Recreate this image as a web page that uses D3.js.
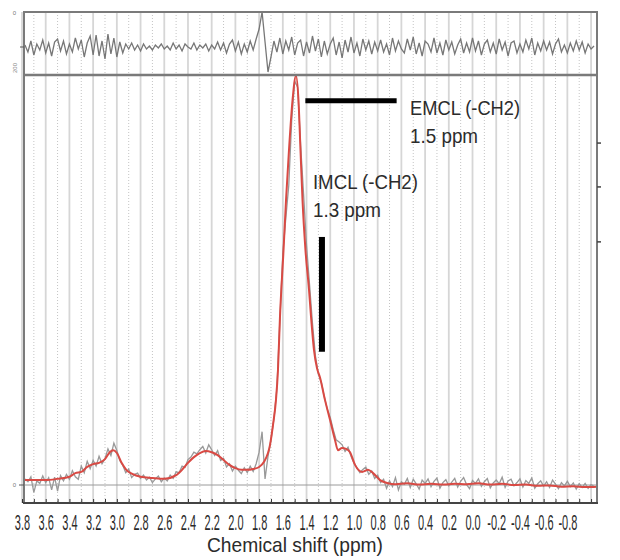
<!DOCTYPE html>
<html>
<head>
<meta charset="utf-8">
<script src="https://cdn.jsdelivr.net/npm/d3@7"></script>
<style>
body{margin:0;background:#fff;}
svg{display:block;font-family:"Liberation Sans Narrow","Liberation Sans",Arial,sans-serif;}
</style>
</head>
<body>
<script>
// fitted spectrum (red), ppm -> amplitude (baseline 0, main peak ~100)
const fitPpm=[3.78,3.7,3.6,3.5,3.4,3.35,3.3,3.25,3.2,3.15,3.1,3.06,3.03,3.0,2.96,2.92,2.87,2.8,2.7,2.6,
  2.5,2.45,2.4,2.35,2.3,2.25,2.2,2.15,2.1,2.05,2.0,1.95,1.9,1.85,1.8,1.76,1.708,1.683,1.658,1.641,
  1.624,1.594,1.573,1.548,1.518,1.489,1.468,1.451,1.434,1.409,1.379,1.362,1.337,1.312,1.287,1.244,1.202,1.16,1.135,1.101,
  1.067,1.033,0.991,0.932,0.882,0.839,0.78,0.721,0.65,0.55,0.45,0.35,0.25,0.15,0.05,-0.05,-0.15,-0.25,-0.35,-0.45,
  -0.55,-0.65,-0.75,-0.85,-0.95,-1.05];
const fitVal=[1.2,1.2,1.2,1.5,2.0,2.9,3.2,4.4,5.1,5.4,6.3,8.0,8.5,7.8,5.4,3.7,2.7,2.0,1.7,1.5,
  2.4,3.7,5.4,6.8,7.8,8.3,8.0,7.3,6.1,4.9,4.1,3.7,3.7,3.9,4.4,5.6,9.8,14.6,20.7,28.0,
  41.0,57.3,69.5,81.7,93.9,99.8,93.9,81.7,69.5,57.3,47.6,41.0,32.9,28.5,26.3,20.7,15.9,11.0,8.5,9.0,
  8.8,8.0,4.9,3.2,3.7,2.9,1.2,0.5,0.2,0.4,0.1,0.3,0.1,0.3,0.2,0.4,0.1,0.3,0.0,0.1,
  -0.2,-0.1,-0.4,-0.3,-0.5,-0.4];

// raw spectrum (gray) and residual (top panel), sampled every 0.025 ppm starting at 3.775
const sampleStart=3.775, sampleStep=0.025;
const rawVal=[
  1.5,0.8,2.0,-1.8,1.0,0.4,2.2,0.6,
  1.8,-1.2,1.9,-1.5,2.3,1.0,2.6,1.4,
  3.5,2.0,1.4,4.6,3.0,5.8,4.0,6.0,
  4.6,7.0,5.2,6.4,8.8,7.2,10.2,8.4,
  6.0,4.8,3.0,3.9,1.8,2.6,2.9,1.6,
  2.4,1.2,1.9,0.6,1.5,2.2,0.8,1.7,
  1.0,2.4,1.6,3.2,3.0,4.6,4.3,6.2,
  6.8,8.0,7.6,8.6,9.4,7.8,9.8,8.6,
  7.2,8.4,6.0,6.5,4.4,5.2,3.4,4.6,
  3.6,2.8,4.2,3.0,4.6,3.3,5.2,8.0,
  13.0,1.5,7.0,11.0,16.2,23.5,40.0,56.5,
  65.0,73.0,89.0,98.5,97.0,83.0,71.0,58.5,
  49.0,39.5,31.5,27.0,25.0,21.5,18.5,16.5,
  13.5,11.0,10.5,9.8,8.2,9.2,7.0,5.4,
  4.2,3.0,3.8,4.4,2.6,3.4,1.6,2.4,
  0.6,1.4,-0.8,1.0,-0.4,1.8,-1.2,0.8,
  0.2,1.6,-0.6,1.4,0.3,-1.0,1.2,0.4,
  1.5,-0.4,0.9,1.7,-0.8,0.6,1.3,-0.2,
  0.7,1.6,-0.5,0.9,1.8,0.1,-0.9,1.1,
  0.4,1.5,-0.3,0.8,1.6,-0.7,0.5,1.2,
  0.3,1.9,-0.6,1.0,1.4,-0.2,0.6,1.5,
  -0.5,1.1,0.4,1.7,-0.8,0.3,1.0,-0.3,
  0.8,-0.6,1.2,0.2,-0.9,0.6,-0.2,0.9,
  -0.4,0.5,-1.0,0.3,-0.6,0.4,-0.8,0.1,-0.3];
const resVal=[
  2,-5,6,-8,3,-3,7,-6,
  4,-9,5,8,-4,6,-7,3,
  -5,9,-2,7,-10,4,11,-8,
  12,-9,6,-12,13,-7,9,-10,
  5,-6,3,-2,4,-3,2,-4,
  3,-2,1,-3,2,-1,3,-2,
  1,-3,4,-2,2,-4,3,0,
  -2,4,-3,2,-1,3,-4,2,
  -2,5,-3,4,-6,3,7,-4,
  5,-7,3,-5,6,-3,8,18,
  35,5,-25,-10,6,-5,9,-7,
  6,-3,10,-8,4,7,-9,5,
  -6,11,-4,8,-10,6,-7,3,
  9,-8,5,-11,7,-5,10,-6,
  4,-9,8,-3,6,-7,5,-4,
  7,-5,3,-8,9,-4,6,-2,
  -6,8,-3,10,-7,4,-9,6,
  3,-5,9,-6,4,-8,7,-3,
  5,-7,2,8,-6,4,-5,9,
  -4,6,-8,3,7,-5,4,-7,
  8,-3,5,-9,4,6,-6,3,
  -5,7,-2,9,-8,4,-4,6,
  -3,5,-7,3,8,-5,2,-6,
  4,-4,6,-3,5,-6,3,-2,1];

const tickPpm=[3.8,3.6,3.4,3.2,3.0,2.8,2.6,2.4,2.2,2.0,1.8,1.6,1.4,1.2,1.0,0.8,0.6,0.4,0.2,0.0,-0.2,-0.4,-0.6,-0.8];

// annotation bars: [ppm from, ppm to, value from, value to]
const emclBar=[1.41,0.64,93.7,93.7];
const imclBar=[1.27,1.27,60.5,32.5];
const labels=[
  {t:"EMCL (-CH2)",p:0.527,v:90.2,w:110},
  {t:"1.5 ppm",p:0.527,v:83.4,w:68},
  {t:"IMCL (-CH2)",p:1.346,v:72.2,w:105},
  {t:"1.3 ppm",p:1.346,v:65.4,w:68}
];
const rightTicks=[83.4,72.7,59.3];

const W=620,H=560;
const L=24,R=597,T=12,MID=75,BOT=503;

const x=d3.scaleLinear().domain([3.8,-1.05]).range([22,597]);
const yM=d3.scaleLinear().domain([0,100]).range([485,75]);
const yR=d3.scaleLinear().domain([-28,35]).range([75,12]);

const svg=d3.select('body').append('svg').attr('width',W).attr('height',H);

svg.append('clipPath').attr('id','clipMain').append('rect')
  .attr('x',L).attr('y',MID).attr('width',R-L).attr('height',BOT-MID);
svg.append('clipPath').attr('id','clipRes').append('rect')
  .attr('x',L).attr('y',T).attr('width',R-L).attr('height',MID-T);

// vertical grid every 0.1 ppm: solid on even 0.2, dotted in between
const grid=x.ticks(48);
svg.append('g').selectAll('line').data(grid).enter().append('line')
  .attr('x1',d=>x(d)).attr('x2',d=>x(d)).attr('y1',T).attr('y2',BOT)
  .attr('stroke',d=>Math.round(d*10)%2===0?'#d6d6d6':'#c4c4c4')
  .attr('stroke-width',d=>Math.round(d*10)%2===0?1.8:1)
  .attr('stroke-dasharray',d=>Math.round(d*10)%2===0?null:'1,2');

// baseline
svg.append('line').attr('x1',L).attr('x2',R).attr('y1',yM(0)).attr('y2',yM(0))
  .attr('stroke','#9a9a9a').attr('stroke-width',1);

const samples=rawVal.map((v,i)=>[sampleStart-i*sampleStep,v]);
const resid=resVal.map((v,i)=>[sampleStart-i*sampleStep,v]);
const fit=fitPpm.map((p,i)=>[p,fitVal[i]]);

svg.append('path').datum(resid).attr('clip-path','url(#clipRes)')
  .attr('d',d3.line().x(d=>x(d[0])).y(d=>yR(d[1])))
  .attr('fill','none').attr('stroke','#777').attr('stroke-width',1.3);

svg.append('path').datum(samples).attr('clip-path','url(#clipMain)')
  .attr('d',d3.line().x(d=>x(d[0])).y(d=>yM(d[1])))
  .attr('fill','none').attr('stroke','#999').attr('stroke-width',1.3);

svg.append('path').datum(fit).attr('clip-path','url(#clipMain)')
  .attr('d',d3.line().x(d=>x(d[0])).y(d=>yM(d[1])).curve(d3.curveMonotoneX))
  .attr('fill','none').attr('stroke','#d94a44').attr('stroke-width',2);

// frame
svg.append('rect').attr('x',L).attr('y',T).attr('width',R-L).attr('height',BOT-T)
  .attr('fill','none').attr('stroke','#7a7a7a').attr('stroke-width',2);
svg.append('line').attr('x1',L).attr('x2',R).attr('y1',MID).attr('y2',MID)
  .attr('stroke','#7a7a7a').attr('stroke-width',2.5);

// bottom axis: minor ticks and labels
svg.append('g').attr('transform','translate(0,'+BOT+')')
  .call(d3.axisBottom(x).tickValues(grid).tickSize(-4).tickFormat(''))
  .call(g=>g.select('.domain').remove())
  .call(g=>g.selectAll('line').attr('stroke','#333'));
svg.append('line').attr('x1',L-1).attr('x2',R+1).attr('y1',BOT).attr('y2',BOT)
  .attr('stroke','#444').attr('stroke-width',2);

const ax=svg.append('g').attr('transform','translate(0,'+BOT+')')
  .call(d3.axisBottom(x).tickValues(tickPpm).tickSize(0).tickPadding(11).tickFormat(d=>d.toFixed(1)));
ax.select('.domain').remove();
ax.selectAll('text').attr('font-size',22).attr('fill','#2b2b2b')
  .attr('font-family','"Liberation Sans",Arial,sans-serif')
  .attr('transform','scale(0.5,1)');

svg.append('text').attr('x',295).attr('y',552).attr('text-anchor','middle')
  .attr('font-size',21).attr('fill','#2b2b2b')
  .attr('textLength',176).attr('lengthAdjust','spacingAndGlyphs')
  .text('Chemical shift (ppm)');

// small side ticks
svg.append('line').attr('x1',L-5).attr('x2',L).attr('y1',yM(0)).attr('y2',yM(0)).attr('stroke','#555');
svg.append('line').attr('x1',L-4).attr('x2',L).attr('y1',yR(0)).attr('y2',yR(0)).attr('stroke','#555');
svg.append('text').attr('x',L-8).attr('y',yM(0)+2).attr('text-anchor','end').attr('font-size',6).attr('fill','#777').text('0');
svg.append('text').attr('x',L-8).attr('y',T+3).attr('text-anchor','end').attr('font-size',6).attr('fill','#777').text('0');
svg.append('text').attr('transform','translate('+(L-7)+','+(MID-2)+') rotate(-90)')
  .attr('font-size',6).attr('fill','#888').text('200');
svg.append('g').selectAll('line').data(rightTicks).enter().append('line')
  .attr('x1',R).attr('x2',R+4).attr('y1',d=>yM(d)).attr('y2',d=>yM(d))
  .attr('stroke','#444').attr('stroke-width',1.5);

// annotations
svg.append('line').attr('x1',x(emclBar[0])).attr('x2',x(emclBar[1]))
  .attr('y1',yM(emclBar[2])).attr('y2',yM(emclBar[3]))
  .attr('stroke','#000').attr('stroke-width',5);
svg.append('line').attr('x1',x(imclBar[0])).attr('x2',x(imclBar[1]))
  .attr('y1',yM(imclBar[2])).attr('y2',yM(imclBar[3]))
  .attr('stroke','#000').attr('stroke-width',6);

svg.append('g').selectAll('text').data(labels).enter().append('text')
  .attr('x',d=>x(d.p)).attr('y',d=>yM(d.v))
  .attr('font-size',21).attr('fill','#2b2b2b')
  .attr('textLength',d=>d.w).attr('lengthAdjust','spacingAndGlyphs')
  .text(d=>d.t);
</script>
</body>
</html>
